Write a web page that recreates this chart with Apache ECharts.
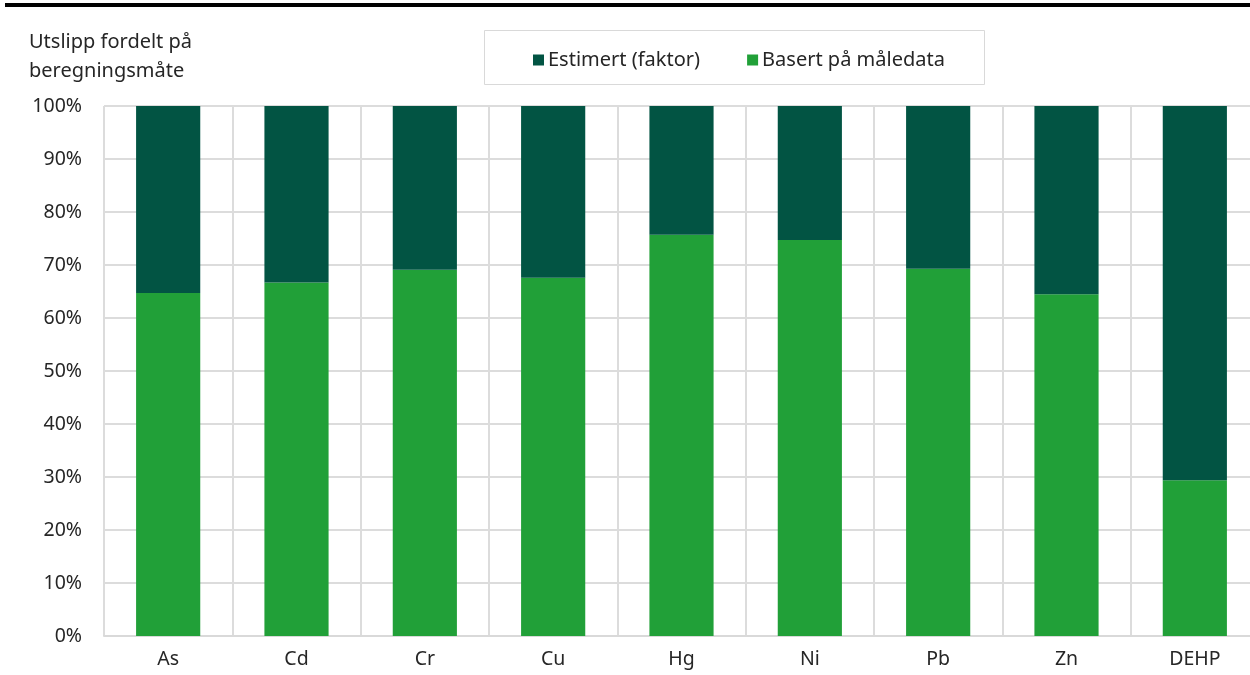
<!DOCTYPE html>
<html>
<head>
<meta charset="utf-8">
<script src="https://cdn.jsdelivr.net/npm/echarts@6/dist/echarts.min.js"></script>
<style>
html,body{margin:0;padding:0;background:#fff;overflow:hidden;}
#chart{width:1260px;height:675px;}
</style>
</head>
<body>
<div id="chart"></div>
<script>
const categories = ['As', 'Cd', 'Cr', 'Cu', 'Hg', 'Ni', 'Pb', 'Zn', 'DEHP'];
const maaledata = [64.7, 66.7, 69.1, 67.6, 75.7, 74.7, 69.3, 64.5, 29.4];
const estimert = [35.3, 33.3, 30.9, 32.4, 24.3, 25.3, 30.7, 35.5, 70.6];
const yTicks = [0, 10, 20, 30, 40, 50, 60, 70, 80, 90, 100];

const FONT = 'Noto Sans';
const TXT = '#262626';
const FS = 19.5;
const FL = 20;
const chart = echarts.init(document.getElementById('chart'), null, {renderer: 'canvas'});
chart.setOption({
  animation: false,
  backgroundColor: '#ffffff',
  textStyle: {fontFamily: FONT},
  graphic: [
    {type: 'rect', shape: {x: 5, y: 3, width: 1255, height: 4}, style: {fill: '#000'}},
    {type: 'text', left: 29, top: 28, style: {text: 'Utslipp fordelt på\nberegningsmåte', font: FL + 'px "Noto Sans"', fill: TXT, lineHeight: 29}},
    {type: 'rect', shape: {x: 484.5, y: 30.5, width: 500, height: 54}, style: {fill: 'none', stroke: '#d9d9d9', lineWidth: 1}}
  ],
  legend: {
    data: ['Estimert (faktor)', 'Basert på måledata'],
    left: 528, top: 45,
    itemWidth: 11, itemHeight: 11, itemGap: 47,
    icon: 'rect',
    textStyle: {fontFamily: FONT, fontSize: FL, color: TXT, padding: [0, 0, 0, -1]}
  },
  grid: {left: 104, top: 106, bottom: 39, width: 1155, containLabel: false},
  xAxis: {
    type: 'category',
    data: categories,
    axisLine: {show: true, lineStyle: {color: '#d9d9d9', width: 2}},
    axisTick: {show: false},
    axisLabel: {fontFamily: FONT, fontSize: FS, color: TXT, margin: 13},
    splitLine: {show: true, lineStyle: {color: '#dcdcdc', width: 2}}
  },
  yAxis: {
    type: 'value',
    min: 0, max: 100, interval: 10,
    axisLine: {show: false},
    axisTick: {show: false},
    axisLabel: {fontFamily: FONT, fontSize: FS, color: TXT, margin: 22,
      formatter: v => yTicks.includes(v) ? v + '%' : ''},
    splitLine: {show: true, lineStyle: {color: '#dcdcdc', width: 2}}
  },
  series: [
    {name: 'Basert på måledata', type: 'bar', stack: 'a', barWidth: '50%', data: maaledata, itemStyle: {color: '#21a038'}},
    {name: 'Estimert (faktor)', type: 'bar', stack: 'a', barWidth: '50%', data: estimert, itemStyle: {color: '#025443'}}
  ]
});
</script>
</body>
</html>
